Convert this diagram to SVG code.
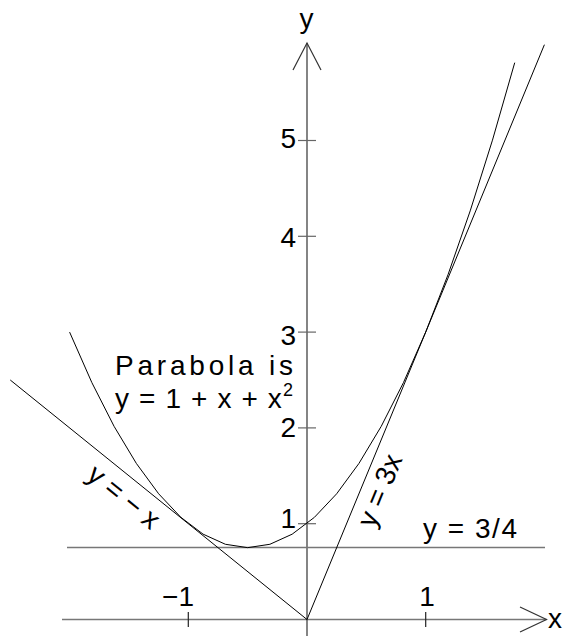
<svg xmlns="http://www.w3.org/2000/svg" width="565" height="636" viewBox="0 0 565 636">
<style>
text{font-family:"Liberation Sans",Arial,sans-serif;font-size:28px;fill:#000}
.ax{stroke:#777;stroke-width:1.5;fill:none}
.yax{stroke:#333;stroke-width:1.2;fill:none}
.crv{stroke:#000;stroke-width:1;fill:none;stroke-linejoin:round}
.tk{stroke:#666;stroke-width:1.2}
.tkx{stroke:#222;stroke-width:1.2}
</style>
<rect width="565" height="636" fill="#fff"/>
<g id="axes">
<line class="ax" x1="62" y1="619.5" x2="546.5" y2="619.5"/>
<polyline class="yax" points="520,607 546.5,619.5 520,632"/>
<line class="yax" x1="307" y1="636" x2="307" y2="43"/>
<polyline class="yax" points="293,70 307,43 321,70"/>
<line class="ax" x1="67" y1="547.6" x2="545" y2="547.6"/>
<g id="ticks">
<line class="tk" x1="298" y1="523.7" x2="316" y2="523.7"/>
<line class="tk" x1="298" y1="427.9" x2="316" y2="427.9"/>
<line class="tk" x1="298" y1="332.1" x2="316" y2="332.1"/>
<line class="tk" x1="298" y1="236.3" x2="316" y2="236.3"/>
<line class="tk" x1="298" y1="140.5" x2="316" y2="140.5"/>
<line class="tkx" x1="188.3" y1="612" x2="188.3" y2="627"/>
<line class="tkx" x1="425.7" y1="612" x2="425.7" y2="627"/>
</g>
</g>
<g id="connectors">
<polyline id="parabola" class="crv" points="69.6,332.1 91.86,382.62 114.11,426.4 136.37,463.45 158.63,493.76 180.88,517.34 203.14,534.18 225.39,544.28 247.65,547.65 269.91,544.28 292.16,534.18 314.42,517.34 336.68,493.76 358.93,463.45 381.19,426.4 403.44,382.62 425.7,332.1 447.96,274.84 470.21,210.85 492.47,140.13 514.73,62.66"/>
<line id="tangent-neg" class="crv" x1="10.25" y1="380" x2="307" y2="619.5"/>
<line id="tangent-3x" class="crv" x1="307" y1="619.5" x2="544.4" y2="44.7"/>
</g>
<g id="labels">
<text x="306.5" y="28" text-anchor="middle">y</text>
<text x="548" y="628" font-size="26">x</text>
<text x="296" y="148" text-anchor="end">5</text>
<text x="296" y="247" text-anchor="end">4</text>
<text x="296" y="345" text-anchor="end">3</text>
<text x="296" y="437" text-anchor="end">2</text>
<text x="296" y="528" text-anchor="end">1</text>
<text x="178" y="606" text-anchor="middle">−1</text>
<text x="427" y="606" text-anchor="middle">1</text>
<text x="423" y="538" textLength="94" lengthAdjust="spacing">y = 3/4</text>
</g>
<g id="note">
<text x="115" y="375" textLength="178" lengthAdjust="spacing">Parabola is</text>
<text x="115" y="408" textLength="178" lengthAdjust="spacing">y = 1 + x + x<tspan dy="-12" font-size="18">2</tspan></text>
</g>
<g id="label-neg">
<text transform="translate(123,498) rotate(38.9)" x="0" y="8" text-anchor="middle">y = − x</text>
</g>
<g id="label-3x">
<text transform="translate(381,491) rotate(-67.6)" x="0" y="8" text-anchor="middle">y = 3x</text>
</g>
</svg>
